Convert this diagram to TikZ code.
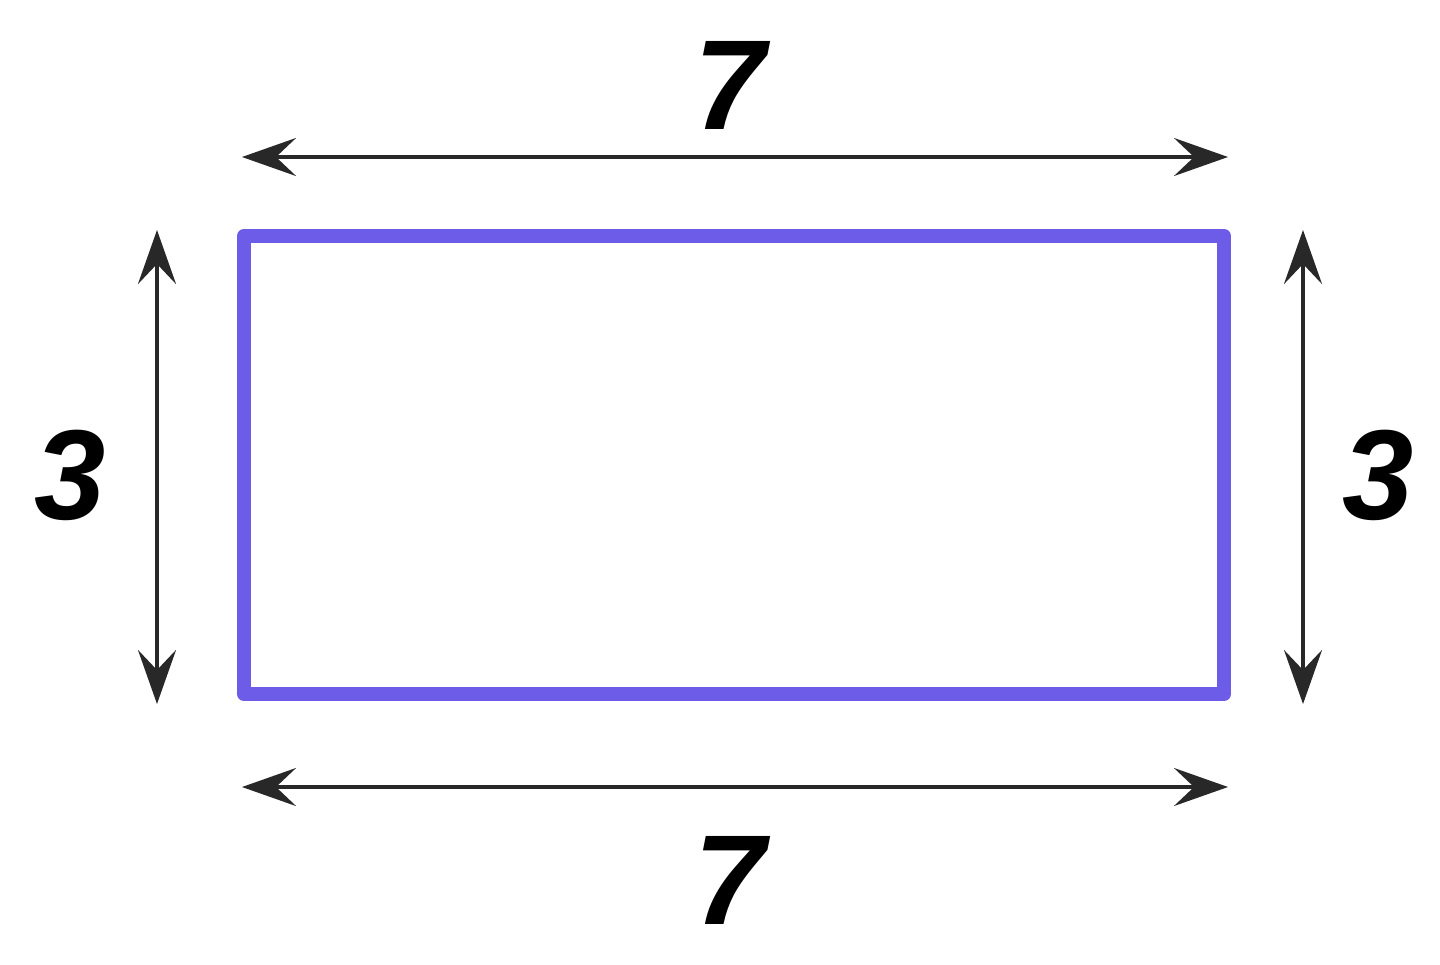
\documentclass[tikz,border=0pt]{standalone}
\usepackage{fontspec}
\setmainfont{Liberation Sans}
\usetikzlibrary{arrows.meta}
\definecolor{rectblue}{RGB}{108,92,231}
\definecolor{dimgray}{RGB}{40,40,40}
\begin{document}
\begin{tikzpicture}[x=0.5pt,y=-0.5pt,
  dimline/.style={draw=dimgray,line width=1.8pt,{Stealth[length=27pt,width=19pt,inset=10pt]}-{Stealth[length=27pt,width=19pt,inset=10pt]}},
  lbl/.style={font=\fontsize{64}{70}\selectfont\bfseries\itshape,inner sep=0pt}]
\useasboundingbox (0,0) rectangle (1440,964);
\draw[rectblue,line width=7pt,line join=round] (244,236) rectangle (1224,694);
\coordinate (t1) at (242,157); \coordinate (t2) at (1228,157);
\coordinate (b1) at (242,787); \coordinate (b2) at (1228,787);
\coordinate (l1) at (157,230); \coordinate (l2) at (157,704);
\coordinate (r1) at (1303,230); \coordinate (r2) at (1303,704);
\draw[dimline] (t1) -- (t2);
\draw[dimline] (b1) -- (b2);
\draw[dimline] (l1) -- (l2);
\draw[dimline] (r1) -- (r2);
\node[lbl] (top) at (730,85) {7};
\node[lbl] (bot) at (730,880) {7};
\node[lbl] (left) at (70,475) {3};
\node[lbl] (right) at (1378,475) {3};
\end{tikzpicture}
\end{document}
